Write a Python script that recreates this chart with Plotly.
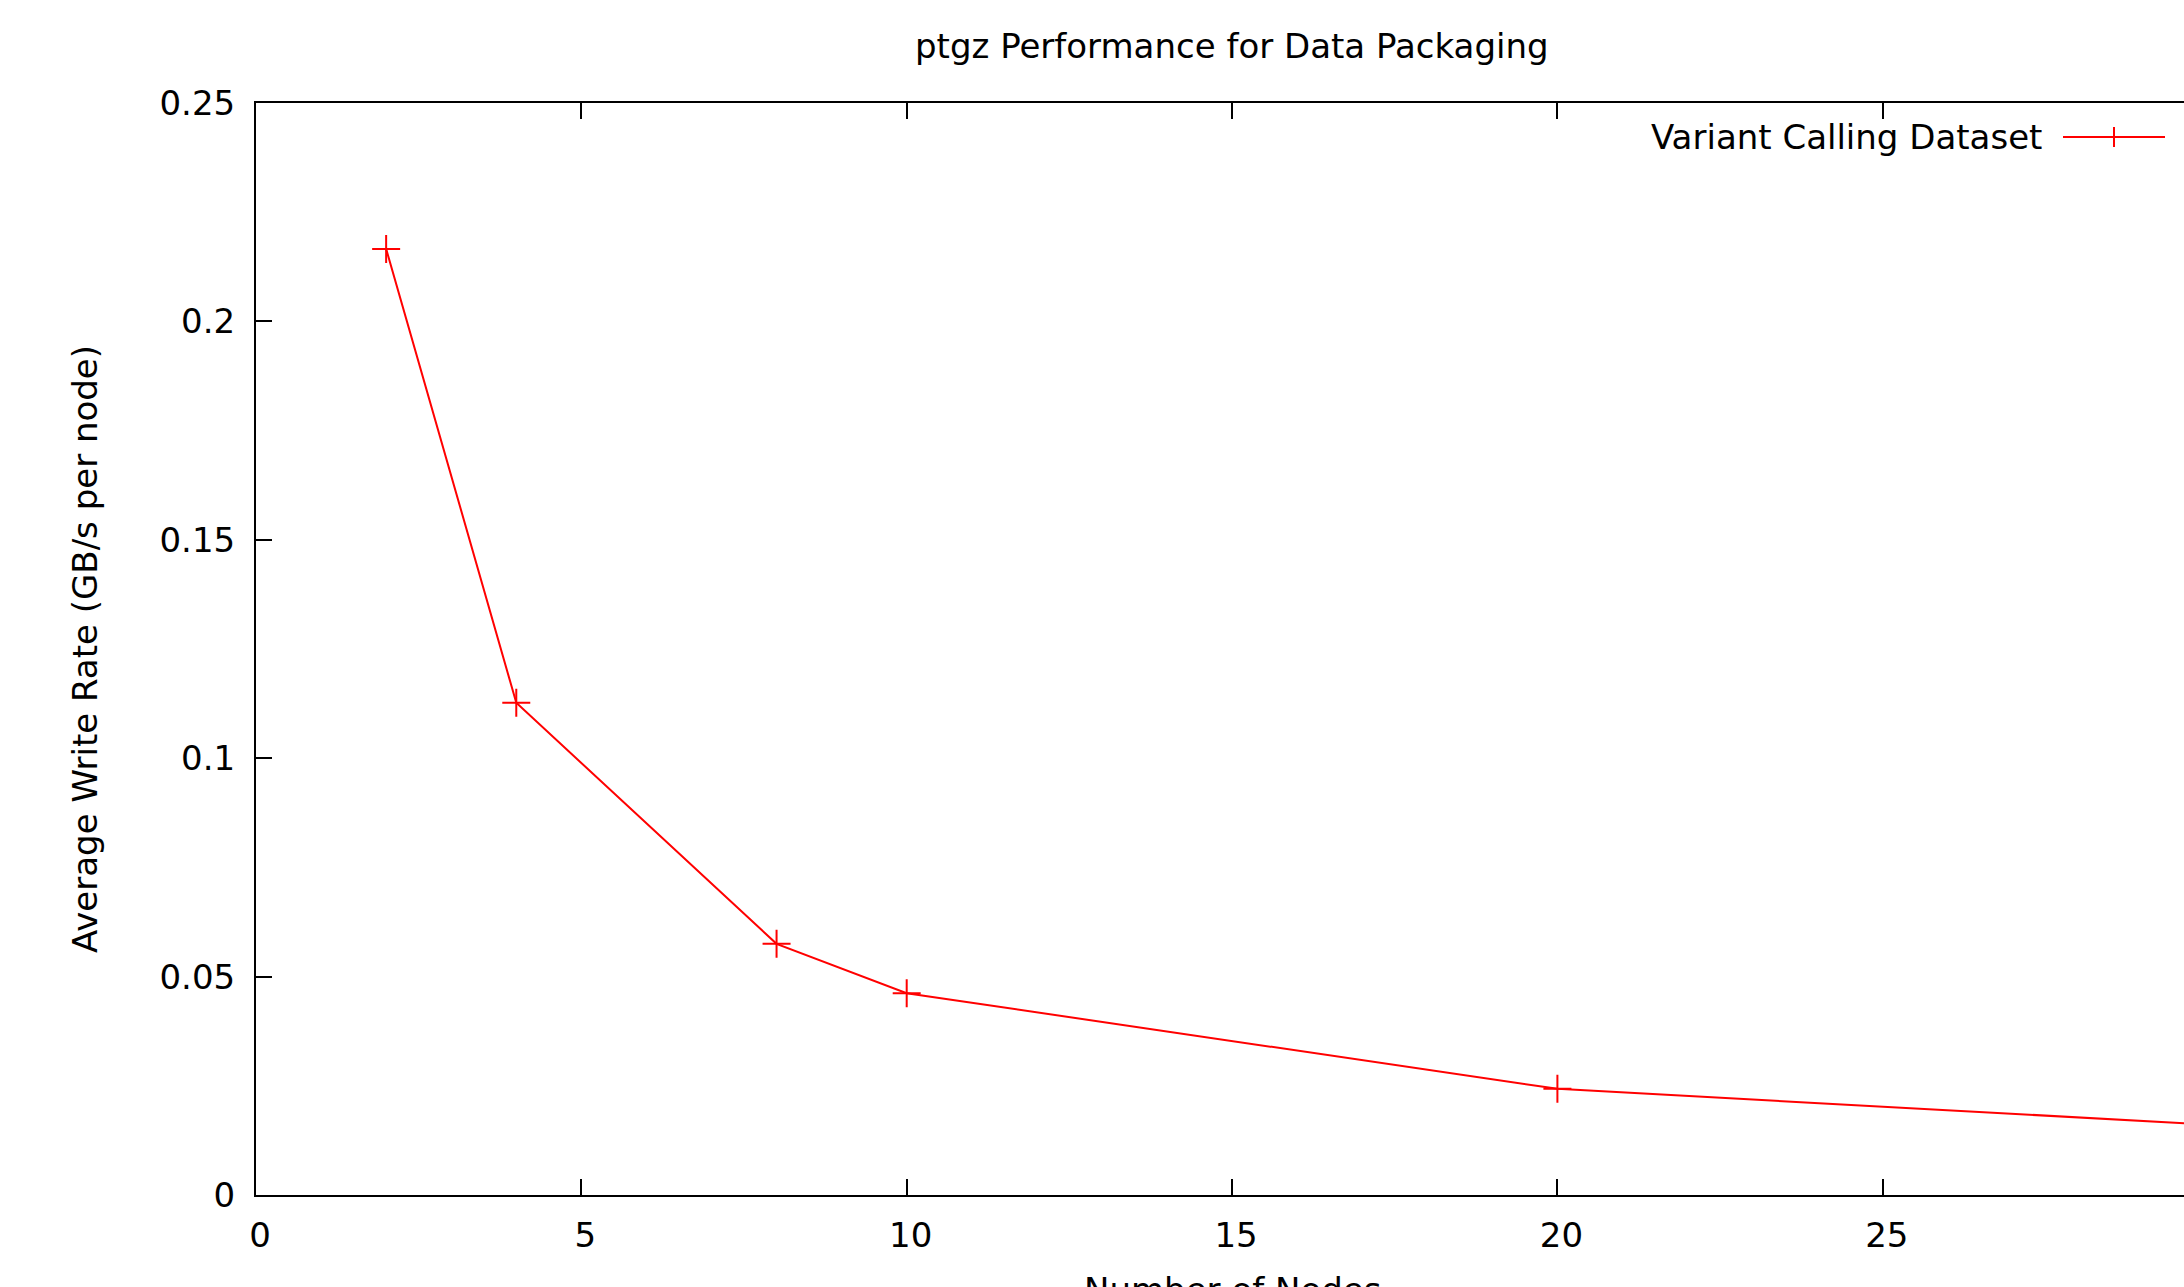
import plotly.graph_objects as go

# Data
nodes = [2, 4, 8, 10, 20, 32]
write_rate = [0.2166, 0.1127, 0.0575, 0.0462, 0.0243, 0.0145]

title_text = "ptgz Performance for Data Packaging"
x_title = "Number of Nodes"
y_title = "Average Write Rate (GB/s per node)"
series_name = "Variant Calling Dataset"
x_ticks = [0, 5, 10, 15, 20, 25, 30]
y_ticks = [0, 0.05, 0.1, 0.15, 0.2, 0.25]
y_ticklabels = ["0", "0.05", "0.1", "0.15", "0.2", "0.25"]

W, H = 2184, 1287
L, R, T, B = 256, 0, 103, 92
plot_w = W - L - R
plot_h = H - T - B
px_per_unit = 65.07
x_max = plot_w / px_per_unit

FONT = "DejaVu Sans"
FS = 34
RED = "#ff0000"


def px_x(p):
    return (p - L) / plot_w


def px_y(p):
    return (H - B - p) / plot_h


fig = go.Figure()
fig.add_trace(go.Scatter(
    x=nodes, y=write_rate, mode="lines+markers", name=series_name,
    line=dict(color=RED, width=2),
    marker=dict(symbol="cross-thin", size=20, line=dict(color=RED, width=2)),
    showlegend=False, cliponaxis=True,
))

annotations = [
    dict(text=title_text, xref="x", x=15, yref="paper", y=px_y(46),
         xanchor="center", yanchor="middle", showarrow=False,
         font=dict(family=FONT, size=FS, color="black")),
    dict(text=x_title, xref="x", x=15, yref="paper", y=px_y(1268),
         xanchor="center", yanchor="top", showarrow=False,
         font=dict(family=FONT, size=FS, color="black")),
    dict(text=series_name, xref="paper", x=px_x(2044), yref="paper", y=px_y(137),
         xanchor="right", yanchor="middle", showarrow=False,
         font=dict(family=FONT, size=FS, color="black")),
]

shapes = [
    dict(type="line", xref="paper", yref="paper",
         x0=px_x(2063), x1=px_x(2165), y0=px_y(137), y1=px_y(137),
         line=dict(color=RED, width=2)),
    dict(type="line", xref="paper", yref="paper",
         x0=px_x(2114), x1=px_x(2114), y0=px_y(127), y1=px_y(147),
         line=dict(color=RED, width=2)),
]

fig.update_layout(
    width=W, height=H,
    margin=dict(l=L, r=R, t=T, b=B, pad=0),
    paper_bgcolor="white", plot_bgcolor="white",
    font=dict(family=FONT, size=FS, color="black"),
    annotations=annotations, shapes=shapes,
    showlegend=False,
)
fig.update_xaxes(
    range=[0, x_max], tickvals=x_ticks, ticktext=[str(v) for v in x_ticks],
    ticks="inside", ticklen=16, tickwidth=1.5, tickcolor="black",
    showline=True, linecolor="black", linewidth=2, mirror="ticks",
    showgrid=False, zeroline=False,
    tickfont=dict(family=FONT, size=FS, color="black"),
    ticklabelstandoff=9, ticklabelshift=4,
)
fig.update_yaxes(
    range=[0, 0.25], tickvals=y_ticks, ticktext=y_ticklabels,
    ticks="inside", ticklen=16, tickwidth=1.5, tickcolor="black",
    showline=True, linecolor="black", linewidth=2, mirror=False,
    showgrid=False, zeroline=False,
    tickfont=dict(family=FONT, size=FS, color="black"),
    ticklabelstandoff=12,
    title=dict(text=y_title, font=dict(family=FONT, size=FS, color="black"), standoff=52),
)

fig.write_html("out.html")
